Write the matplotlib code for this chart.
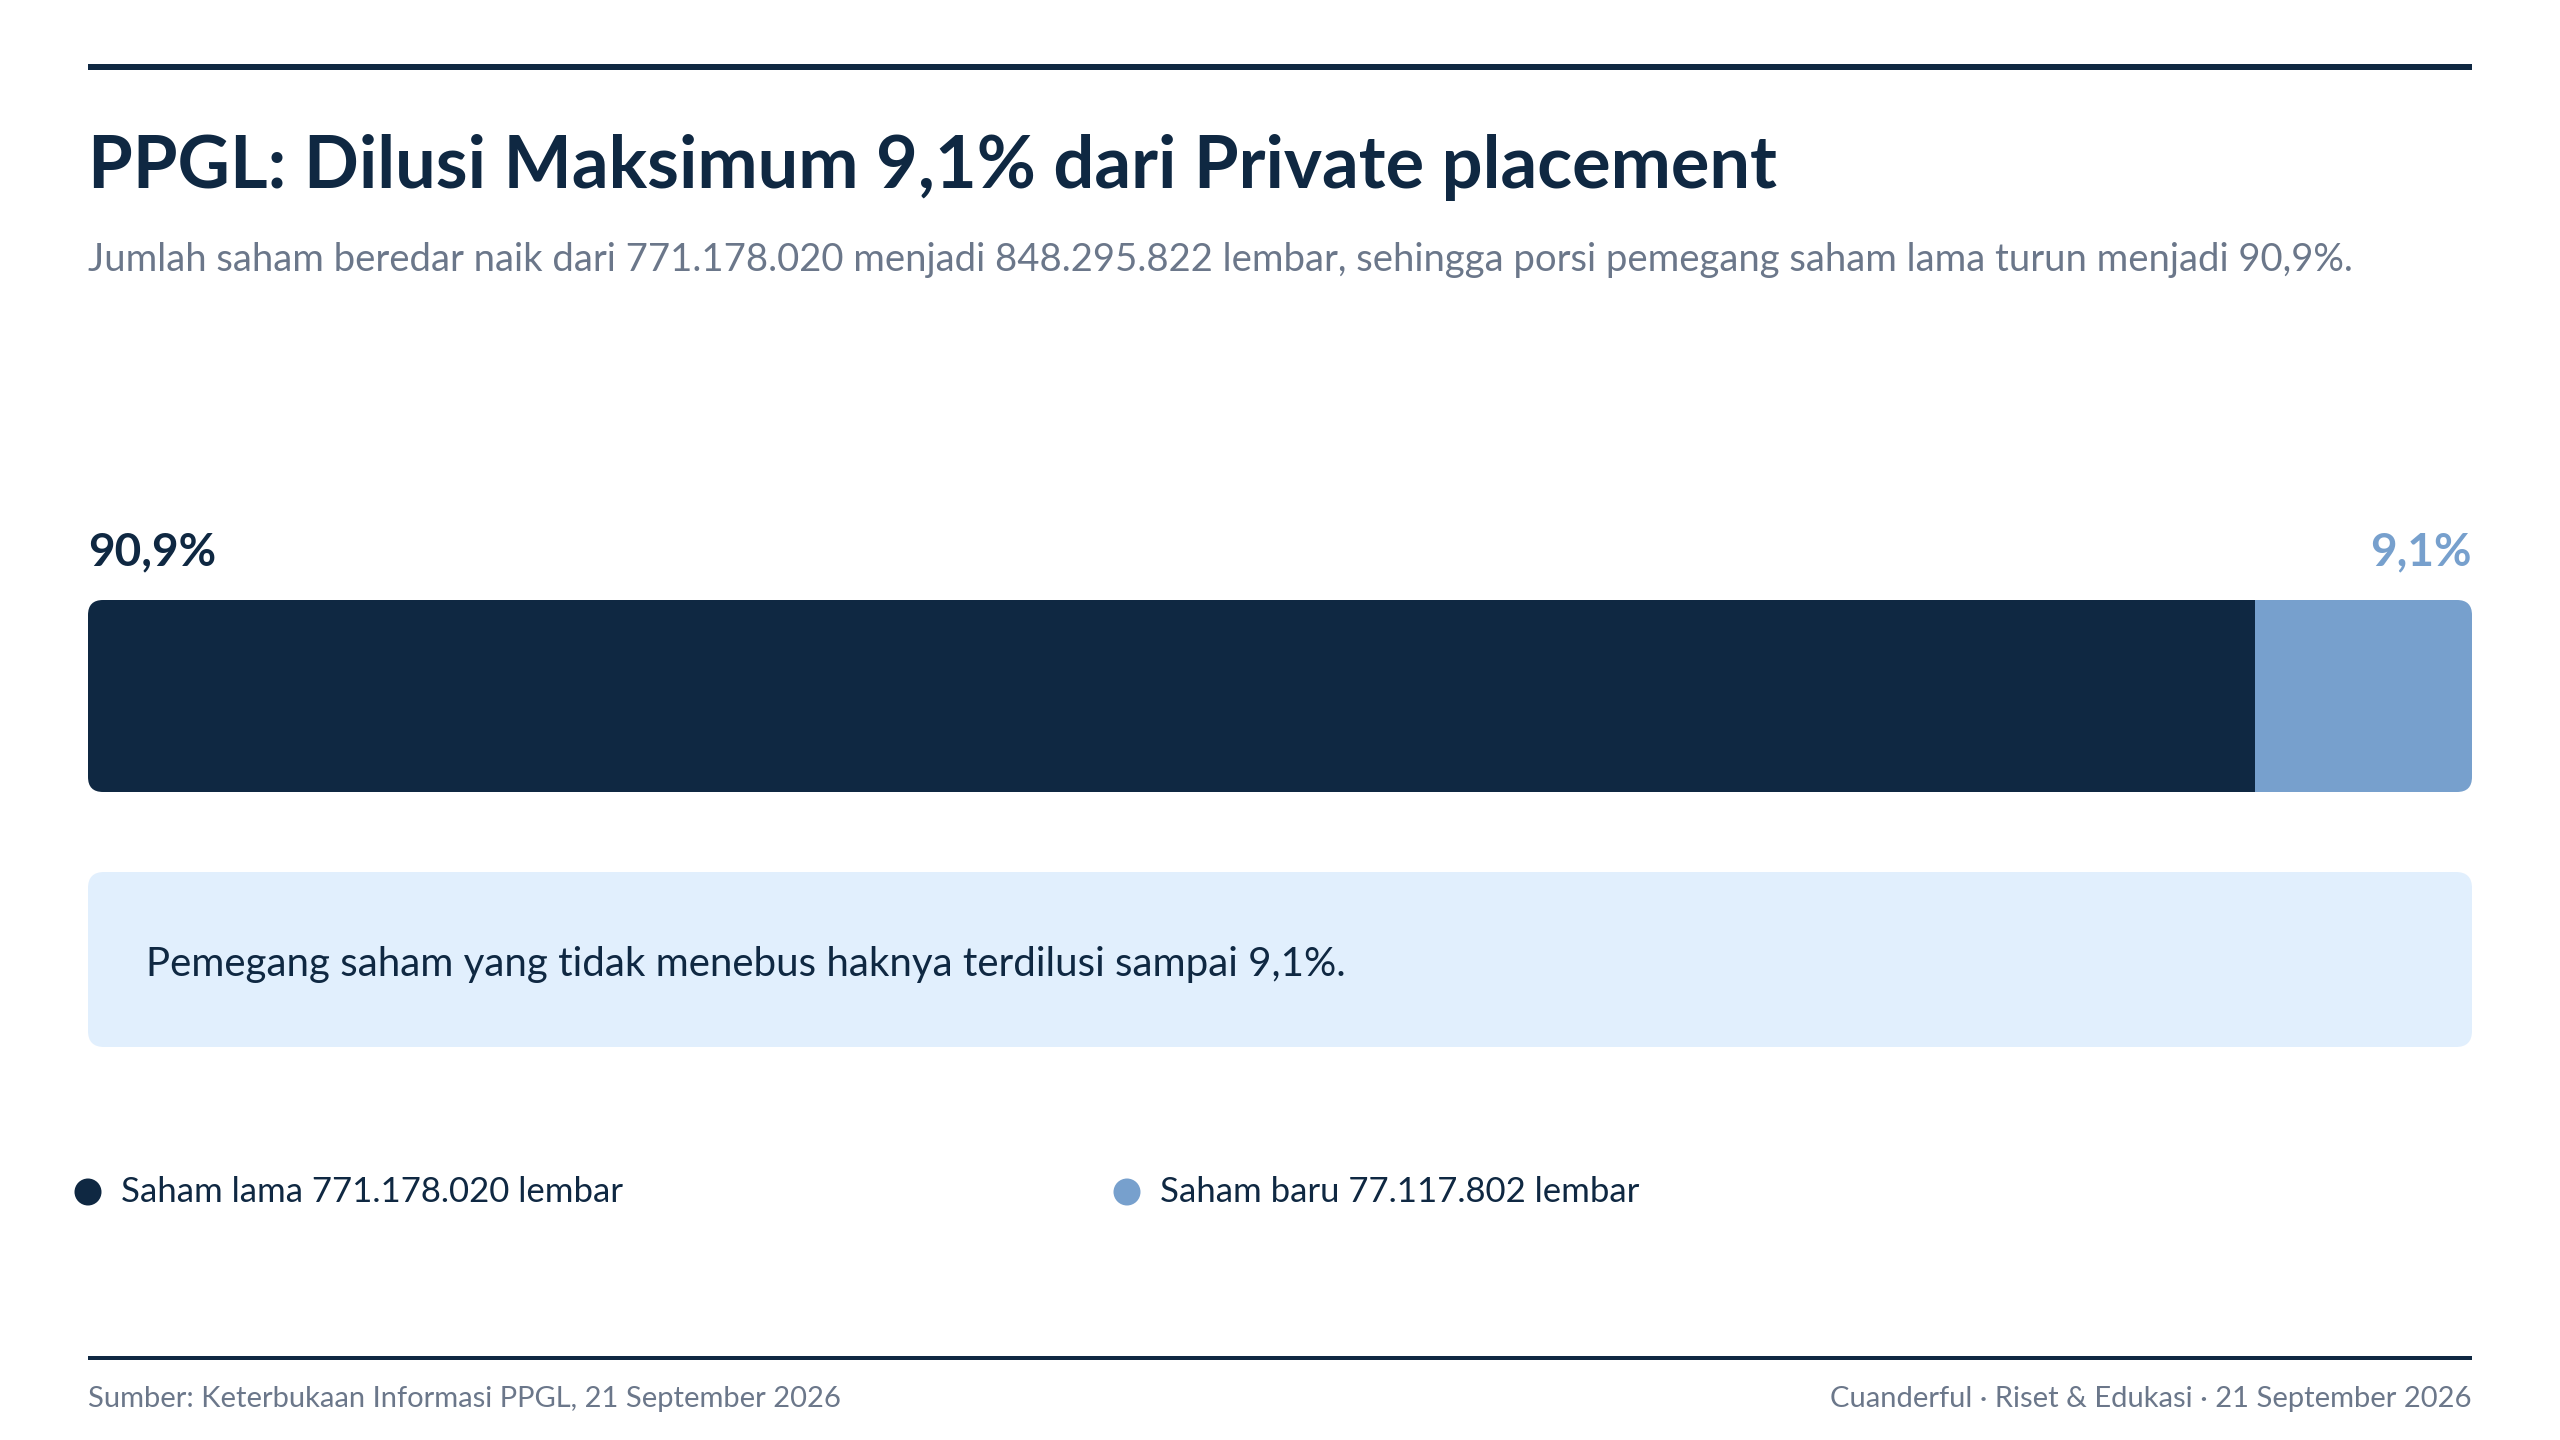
import matplotlib
matplotlib.use("Agg")
import matplotlib.pyplot as plt
from matplotlib.patches import FancyBboxPatch

# data
share_labels = ["Saham lama", "Saham baru"]
share_counts = [771178020, 77117802]
share_pct = ["90,9%", "9,1%"]
colors = ["#0f2842", "#77a0cd"]

title = "PPGL: Dilusi Maksimum 9,1% dari Private placement"
subtitle = ("Jumlah saham beredar naik dari 771.178.020 menjadi 848.295.822 lembar, "
            "sehingga porsi pemegang saham lama turun menjadi 90,9%.")
note = "Pemegang saham yang tidak menebus haknya terdilusi sampai 9,1%."
source = "Sumber: Keterbukaan Informasi PPGL, 21 September 2026"
credit = "Cuanderful \u00b7 Riset & Edukasi \u00b7 21 September 2026"

NAVY = "#0f2842"
GRAY = "#6b778a"
FONT = "Lato"

W, H = 2560, 1440
fig = plt.figure(figsize=(W / 100, H / 100), dpi=100)
fig.patch.set_facecolor("white")

# pixel-space canvas for layout pieces
ax = fig.add_axes([0, 0, 1, 1])
ax.set_xlim(0, W)
ax.set_ylim(H, 0)
ax.axis("off")

L, R = 88, 2472

# top and bottom rules
ax.plot([L, R], [67, 67], color=NAVY, lw=6 * 0.72, solid_capstyle="butt")
ax.plot([L, R], [1358, 1358], color=NAVY, lw=4 * 0.72, solid_capstyle="butt")

ax.text(L, 188, title, fontsize=52, fontweight="bold", color=NAVY,
        family=FONT, va="baseline", ha="left")
ax.text(L, 271, subtitle, fontsize=27.5, color=GRAY,
        family=FONT, va="baseline", ha="left")

# percent labels above the bar
ax.text(L, 565, share_pct[0], fontsize=33, fontweight="bold", color=colors[0],
        family=FONT, va="baseline", ha="left")
ax.text(R, 565, share_pct[1], fontsize=33, fontweight="bold", color=colors[1],
        family=FONT, va="baseline", ha="right")

# stacked bar in its own axes
bar_top, bar_bot = 600, 792
bax = fig.add_axes([L / W, 1 - bar_bot / H, (R - L) / W, (bar_bot - bar_top) / H])
total = sum(share_counts)
left = 0
bars = []
for cnt, c in zip(share_counts, colors):
    b = bax.barh(0, cnt, left=left, height=1, color=c, edgecolor="none")
    bars.extend(b.patches)
    left += cnt
bax.set_xlim(0, total)
bax.set_ylim(-0.5, 0.5)
bax.axis("off")

clip = FancyBboxPatch((L, bar_top), R - L, bar_bot - bar_top,
                      boxstyle="round,pad=0,rounding_size=15",
                      transform=ax.transData, facecolor="none", edgecolor="none")
for p in bars:
    p.set_clip_path(clip)

# callout box
box = FancyBboxPatch((L, 872), R - L, 1047 - 872,
                     boxstyle="round,pad=0,rounding_size=16",
                     facecolor="#e1effd", edgecolor="none")
ax.add_patch(box)
ax.text(146, 976, note, fontsize=29, color=NAVY, family=FONT,
        va="baseline", ha="left")

# legend
leg_x = [88, 1127]
for x, lab, cnt, c in zip(leg_x, share_labels, share_counts, colors):
    ax.scatter([x], [1192], s=(27 * 0.72) ** 2, color=c, edgecolors="none")
    txt = f"{lab} {cnt:,} lembar".replace(",", ".")
    ax.text(x + 33, 1192, txt, fontsize=25, color=NAVY, family=FONT,
            va="center", ha="left")

# footer
ax.text(L, 1407, source, fontsize=21, color=GRAY, family=FONT,
        va="baseline", ha="left")
ax.text(R, 1407, credit, fontsize=21, color=GRAY, family=FONT,
        va="baseline", ha="right")

fig.savefig("out.png", dpi=100, facecolor="white")
